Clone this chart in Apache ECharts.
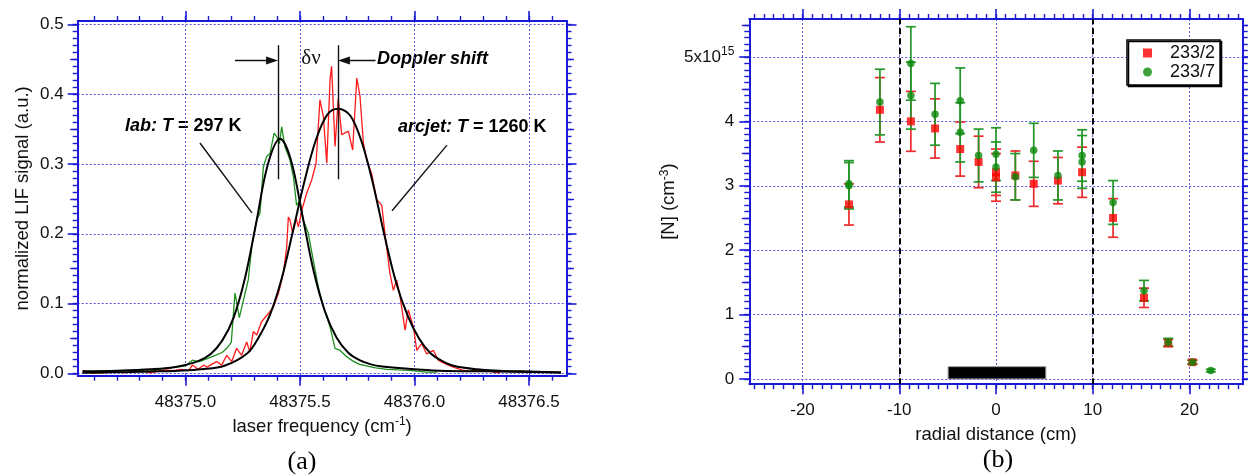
<!DOCTYPE html>
<html><head><meta charset="utf-8">
<script src="https://cdn.jsdelivr.net/npm/echarts@6/dist/echarts.min.js"></script>
<style>html,body{margin:0;padding:0;background:#fff;}#c{width:1248px;height:475px;}</style>
</head><body><div id="c"></div>
<script>
// ---------------- panel (a): LIF spectra ----------------
const labFreq = [48374.56,48374.62,48374.68,48374.74,48374.80,48374.85,48374.90,48374.96,48375.00,48375.03,48375.06,48375.10,48375.13,48375.16,48375.18,48375.20,48375.216,48375.235,48375.253,48375.274,48375.289,48375.311,48375.325,48375.340,48375.355,48375.369,48375.387,48375.398,48375.410,48375.420,48375.434,48375.456,48375.471,48375.485,48375.500,48375.514,48375.536,48375.558,48375.580,48375.602,48375.631,48375.653,48375.675,48375.704,48375.73,48375.76,48375.79,48375.83,48375.88,48375.93,48375.99,48376.05,48376.10];
const labSignal = [0.002,0.001,0.003,0.002,0.004,0.003,0.007,0.009,0.011,0.019,0.017,0.022,0.026,0.030,0.036,0.045,0.115,0.080,0.105,0.134,0.181,0.220,0.229,0.296,0.311,0.315,0.344,0.339,0.329,0.353,0.325,0.306,0.282,0.241,0.248,0.220,0.201,0.162,0.124,0.095,0.067,0.036,0.033,0.024,0.018,0.013,0.011,0.008,0.006,0.005,0.004,0.002,0.002];
const arcFreq = [48374.551,48374.568,48374.593,48374.643,48374.694,48374.728,48374.761,48374.811,48374.845,48374.879,48374.912,48374.946,48374.979,48375.013,48375.030,48375.055,48375.080,48375.093,48375.136,48375.158,48375.180,48375.202,48375.223,48375.245,48375.267,48375.281,48375.296,48375.311,48375.332,48375.355,48375.384,48375.406,48375.427,48375.442,48375.449,48375.456,48375.468,48375.483,48375.493,48375.508,48375.529,48375.551,48375.570,48375.587,48375.602,48375.617,48375.631,48375.638,48375.653,48375.667,48375.682,48375.711,48375.730,48375.748,48375.762,48375.777,48375.791,48375.813,48375.835,48375.857,48375.871,48375.893,48375.908,48375.922,48375.937,48375.959,48375.973,48375.995,48376.010,48376.032,48376.053,48376.083,48376.104,48376.133,48376.170,48376.206,48376.243,48376.286,48376.301,48376.330,48376.345,48376.374];
const arcSignal = [0.004,0.003,0.000,0.001,0.003,0.001,0.002,0.004,0.001,0.003,0.005,0.004,0.006,0.004,0.012,0.006,0.012,0.009,0.017,0.012,0.026,0.017,0.036,0.026,0.045,0.031,0.060,0.055,0.074,0.083,0.095,0.115,0.143,0.181,0.224,0.220,0.201,0.222,0.210,0.234,0.258,0.277,0.301,0.392,0.368,0.301,0.420,0.440,0.325,0.394,0.342,0.347,0.320,0.423,0.397,0.330,0.306,0.286,0.249,0.241,0.201,0.143,0.119,0.134,0.110,0.062,0.091,0.067,0.033,0.043,0.028,0.033,0.019,0.014,0.009,0.005,0.003,0.006,0.003,0.004,0.002,0.001];
const labFitFreq = [48374.55,48374.70,48374.85,48374.95,48375.05,48375.11,48375.16,48375.21,48375.26,48375.31,48375.36,48375.413,48375.46,48375.51,48375.56,48375.61,48375.66,48375.71,48375.76,48375.81,48375.86,48375.96,48376.11,48376.31,48376.64];
const labFitSignal = [0.003,0.004,0.006,0.009,0.017,0.028,0.047,0.080,0.137,0.218,0.300,0.336,0.306,0.227,0.146,0.088,0.051,0.030,0.019,0.013,0.010,0.007,0.004,0.003,0.0015];
const arcFitFreq = [48374.55,48374.75,48374.87,48374.97,48375.07,48375.17,48375.27,48375.32,48375.37,48375.42,48375.47,48375.52,48375.57,48375.62,48375.667,48375.72,48375.77,48375.82,48375.87,48375.92,48375.97,48376.02,48376.07,48376.12,48376.17,48376.27,48376.37,48376.47,48376.64];
const arcFitSignal = [0.001,0.002,0.003,0.004,0.006,0.011,0.029,0.052,0.085,0.136,0.205,0.276,0.335,0.371,0.379,0.369,0.331,0.270,0.196,0.130,0.083,0.050,0.029,0.018,0.011,0.006,0.004,0.003,0.0015];
const labCentre = 48375.406, arcCentre = 48375.665;
const freqTicks = [48375.0, 48375.5, 48376.0, 48376.5];
const signalTicks = [0, 0.1, 0.2, 0.3, 0.4, 0.5];

// ---------------- panel (b): radial density ----------------
const r233_2 = [-15.2,-12.0,-8.8,-6.3,-3.7,-1.8,0,0,2.0,3.9,6.4,8.9,12.1,15.3,17.8,20.3];
const n233_2 = [2.71,4.18,4.00,3.89,3.57,3.37,3.21,3.13,3.16,3.03,3.08,3.21,2.50,1.26,0.56,0.26];
const e233_2 = [0.32,0.50,0.465,0.46,0.42,0.40,0.36,0.37,0.38,0.35,0.36,0.39,0.30,0.15,0.06,0.03];
const r233_7 = [-15.2,-15.2,-12.0,-8.8,-8.8,-6.3,-3.7,-3.7,-1.8,0,0,2.0,3.9,6.4,8.9,8.9,12.1,15.3,17.8,20.3,22.2];
const n233_7 = [3.03,3.00,4.30,4.90,4.40,4.11,4.32,3.83,3.47,3.49,3.29,3.14,3.55,3.16,3.47,3.37,2.74,1.37,0.57,0.26,0.13];
const e233_7 = [0.36,0.36,0.51,0.57,0.52,0.48,0.51,0.46,0.41,0.41,0.39,0.36,0.42,0.38,0.40,0.41,0.34,0.16,0.06,0.03,0.02];
const wallPos = [-10, 10];
const shieldBar = [-4.95, 5.15, 0.19];
const radialTicks = [-20, -10, 0, 10, 20];
const densityTicks = [0, 1, 2, 3, 4, 5];

// ---------------- styling ----------------
const FONT = '"Liberation Sans", Arial, Helvetica, sans-serif';
const SERIF = '"Liberation Serif", "Times New Roman", serif';
const AXIS = '#1a1ad6';
const GRIDC = '#5656e2';
const TXT = '#111';

function steps(a, b, s) {
  const out = []; const n = Math.round((b - a) / s);
  for (let i = 0; i <= n; i++) out.push(+(a + i * s).toFixed(6));
  return out;
}
function zip(a, b) { return a.map((v, i) => [v, b[i]]); }

function frameAxes(dim, gridIndex, min, max, majors, minors, mids, labelOpts, nameOpts) {
  const pos = dim === 'x' ? ['bottom', 'top'] : ['left', 'right'];
  const out = [];
  pos.forEach((p, side) => {
    const base = {type: 'value', gridIndex, min, max, position: p};
    out.push(Object.assign({}, base, {
      axisLine: {show: true, onZero: false, lineStyle: {color: AXIS, width: 2}},
      axisTick: {show: true, inside: false, length: 10, customValues: majors, lineStyle: {color: AXIS, width: 1.6}},
      axisLabel: side === 0 ? Object.assign({show: true, customValues: majors, color: TXT, fontSize: 17, fontFamily: FONT}, labelOpts) : {show: false},
      splitLine: side === 0 ? {show: true, lineStyle: {color: GRIDC, width: 1, type: [2, 2]}} : {show: false}
    }, side === 0 ? nameOpts : {}));
    out.push(Object.assign({}, base, {
      axisLine: {show: false, onZero: false},
      axisTick: {show: true, inside: false, length: 5, customValues: minors, lineStyle: {color: AXIS, width: 1.4}},
      axisLabel: {show: false}, splitLine: {show: false}
    }));
    if (mids) out.push(Object.assign({}, base, {
      axisLine: {show: false, onZero: false},
      axisTick: {show: true, inside: false, length: 7.5, customValues: mids, lineStyle: {color: AXIS, width: 1.4}},
      axisLabel: {show: false}, splitLine: {show: false}
    }));
  });
  return out;
}

const nameStyle = {color: TXT, fontSize: 18.5, fontFamily: FONT, lineHeight: 22,
  rich: {sup: {fontSize: 12, fontFamily: FONT, color: TXT, lineHeight: 12, verticalAlign: 'top'}}};

const xAxes = [].concat(
  frameAxes('x', 0, 48374.529, 48376.664, freqTicks, steps(48374.6, 48376.6, 0.1), null,
    {margin: 18, formatter: v => Number(v).toFixed(1)},
    {name: 'laser frequency (cm{sup|-1})', nameLocation: 'middle', nameGap: 39, nameTextStyle: nameStyle}),
  frameAxes('x', 1, -25.5, 25.5, radialTicks, steps(-25, 25, 1), null,
    {margin: 18, formatter: v => String(v)},
    {name: 'radial distance (cm)', nameLocation: 'middle', nameGap: 32, nameTextStyle: nameStyle})
);
const yAxes = [].concat(
  frameAxes('y', 0, -0.0032, 0.5047, signalTicks, steps(0, 0.5, 0.01), steps(0.05, 0.45, 0.1),
    {margin: 14, formatter: v => Number(v).toFixed(1)},
    {name: 'normalized LIF signal (a.u.)', nameLocation: 'middle', nameGap: 44, nameTextStyle: nameStyle}),
  frameAxes('y', 1, -0.082, 5.59, densityTicks, steps(0, 5.5, 0.1), steps(0.5, 5.5, 1),
    {margin: 15, lineHeight: 22, formatter: v => (v === 5 ? '5x10{sup|15}' : String(v)),
     rich: {sup: {fontSize: 12, fontFamily: FONT, color: TXT, lineHeight: 12, verticalAlign: 'top'}}},
    {name: '[N] (cm{sup|-3})', nameLocation: 'middle', nameGap: 49, nameTextStyle: nameStyle})
);

function errorBars(color) {
  return function (params, api) {
    const x = api.value(0), y = api.value(1), e = api.value(2);
    const top = api.coord([x, y + e]), bot = api.coord([x, y - e]);
    const hw = 5;
    const st = {stroke: color, lineWidth: 1.7};
    return {type: 'group', children: [
      {type: 'line', shape: {x1: top[0], y1: top[1], x2: bot[0], y2: bot[1]}, style: st},
      {type: 'line', shape: {x1: top[0] - hw, y1: top[1], x2: top[0] + hw, y2: top[1]}, style: st},
      {type: 'line', shape: {x1: bot[0] - hw, y1: bot[1], x2: bot[0] + hw, y2: bot[1]}, style: st}
    ]};
  };
}

const annStyle = {color: '#111', width: 1.4, type: 'solid'};
function seg(a, b, arrow) {
  const end = {coord: b};
  if (arrow) { end.symbol = 'triangle'; end.symbolSize = [8, 12]; }
  return [{coord: a, symbol: 'none'}, end];
}

const option = {
  animation: false,
  backgroundColor: '#fff',
  grid: [
    {left: 77.7, right: 681.5, top: 21, bottom: 99.3, containLabel: false, outerBoundsMode: 'none'},
    {left: 749.3, right: 5.3, top: 19, bottom: 90.8, containLabel: false, outerBoundsMode: 'none'}
  ],
  xAxis: xAxes,
  yAxis: yAxes,
  legend: {
    data: [{name: '233/2', icon: 'rect'}, {name: '233/7', icon: 'circle'}],
    orient: 'vertical', left: 1127, top: 40, selectedMode: false,
    itemWidth: 9, itemHeight: 9, itemGap: 1,
    padding: [4, 5, 4, 16],
    borderColor: '#000', borderWidth: 1.5, backgroundColor: '#fff',
    shadowColor: '#000', shadowOffsetX: 1.5, shadowOffsetY: 1.5, shadowBlur: 0,
    formatter: n => '{n|' + n + '}',
    textStyle: {fontSize: 18, fontFamily: FONT, color: TXT,
      rich: {n: {fontSize: 18, fontFamily: FONT, color: TXT, padding: [0, 0, 0, 13]}}}
  },
  series: [
    {type: 'line', name: 'arcjet data', xAxisIndex: 0, yAxisIndex: 0, data: zip(arcFreq, arcSignal),
     symbol: 'none', lineStyle: {color: '#ff1a1a', width: 1.3}, z: 2},
    {type: 'line', name: 'lab data', xAxisIndex: 0, yAxisIndex: 0, data: zip(labFreq, labSignal),
     symbol: 'none', lineStyle: {color: '#1f8f1f', width: 1.3}, z: 3},
    {type: 'line', name: 'arcjet fit', xAxisIndex: 0, yAxisIndex: 0, data: zip(arcFitFreq, arcFitSignal),
     symbol: 'none', smooth: 0.35, lineStyle: {color: '#000', width: 2}, z: 4},
    {type: 'line', name: 'lab fit', xAxisIndex: 0, yAxisIndex: 0, data: zip(labFitFreq, labFitSignal),
     symbol: 'none', smooth: 0.35, lineStyle: {color: '#000', width: 2}, z: 4,
     markLine: {silent: true, animation: false, symbol: ['none', 'none'], label: {show: false},
       lineStyle: annStyle, emphasis: {disabled: true},
       data: [
         seg([labCentre, 0.278], [labCentre, 0.470]),
         seg([arcCentre, 0.278], [arcCentre, 0.470]),
         seg([48375.216, 0.448], [48375.378, 0.448], true),
         seg([48375.830, 0.448], [48375.692, 0.448], true),
         seg([48375.063, 0.330], [48375.290, 0.230]),
         seg([48376.142, 0.327], [48375.902, 0.233])
       ]}},
    // panel (b)
    {type: 'custom', name: 'err 233/2', xAxisIndex: 4, yAxisIndex: 6, renderItem: errorBars('#ee2b2b'),
     data: r233_2.map((r, i) => [r, n233_2[i], e233_2[i]]), encode: {x: 0, y: 1}, z: 3},
    {type: 'custom', name: 'err 233/7', xAxisIndex: 4, yAxisIndex: 6, renderItem: errorBars('#23982a'),
     data: r233_7.map((r, i) => [r, n233_7[i], e233_7[i]]), encode: {x: 0, y: 1}, z: 4},
    {type: 'scatter', name: '233/2', xAxisIndex: 4, yAxisIndex: 6, data: zip(r233_2, n233_2),
     symbol: 'rect', symbolSize: 8, itemStyle: {color: '#ff0000'}, z: 5,
     markLine: {silent: true, animation: false, symbol: ['none', 'none'], label: {show: false},
       lineStyle: {color: '#000', width: 2, type: [6, 4]}, emphasis: {disabled: true},
       data: wallPos.map(w => ({xAxis: w}))}},
    {type: 'scatter', name: '233/7', xAxisIndex: 4, yAxisIndex: 6, data: zip(r233_7, n233_7),
     symbol: 'circle', symbolSize: 7.5, itemStyle: {color: '#0b8a0b'}, z: 6,
     markArea: {silent: true, animation: false, itemStyle: {color: '#000', borderColor: '#999', borderWidth: 1},
       data: [[{coord: [shieldBar[0], 0]}, {coord: [shieldBar[1], shieldBar[2]]}]]}}
  ],
  graphic: [
    {type: 'text', x: 125, y: 126, silent: true, style: {text: '{i|lab:} {i|T} = 297 K', fill: '#000',
      fontSize: 18, fontWeight: 'bold', fontFamily: FONT, align: 'left', verticalAlign: 'middle',
      textAlign: 'left', textVerticalAlign: 'middle',
      rich: {i: {fontSize: 18, fontWeight: 'bold', fontStyle: 'italic', fontFamily: FONT, fill: '#000', color: '#000'}}}},
    {type: 'text', x: 398, y: 127, silent: true, style: {text: '{i|arcjet:} {i|T} = 1260 K', fill: '#000',
      fontSize: 18, fontWeight: 'bold', fontFamily: FONT, align: 'left', verticalAlign: 'middle',
      textAlign: 'left', textVerticalAlign: 'middle',
      rich: {i: {fontSize: 18, fontWeight: 'bold', fontStyle: 'italic', fontFamily: FONT, fill: '#000', color: '#000'}}}},
    {type: 'text', x: 377, y: 59, silent: true, style: {text: 'Doppler shift', fill: '#000',
      fontSize: 18, fontWeight: 'bold', fontStyle: 'italic', fontFamily: FONT, align: 'left', verticalAlign: 'middle',
      textAlign: 'left', textVerticalAlign: 'middle'}},
    {type: 'text', x: 311, y: 58, silent: true, style: {text: 'δν', fill: '#111',
      fontSize: 21, fontFamily: SERIF, align: 'center', verticalAlign: 'middle',
      textAlign: 'center', textVerticalAlign: 'middle'}},
    {type: 'text', x: 302, y: 462, silent: true, style: {text: '(a)', fill: '#000',
      fontSize: 26, fontFamily: SERIF, align: 'center', verticalAlign: 'middle',
      textAlign: 'center', textVerticalAlign: 'middle'}},
    {type: 'text', x: 998, y: 460, silent: true, style: {text: '(b)', fill: '#000',
      fontSize: 26, fontFamily: SERIF, align: 'center', verticalAlign: 'middle',
      textAlign: 'center', textVerticalAlign: 'middle'}}
  ]
};

const chart = echarts.init(document.getElementById('c'), null, {renderer: 'canvas'});
chart.setOption(option);
</script></body></html>
